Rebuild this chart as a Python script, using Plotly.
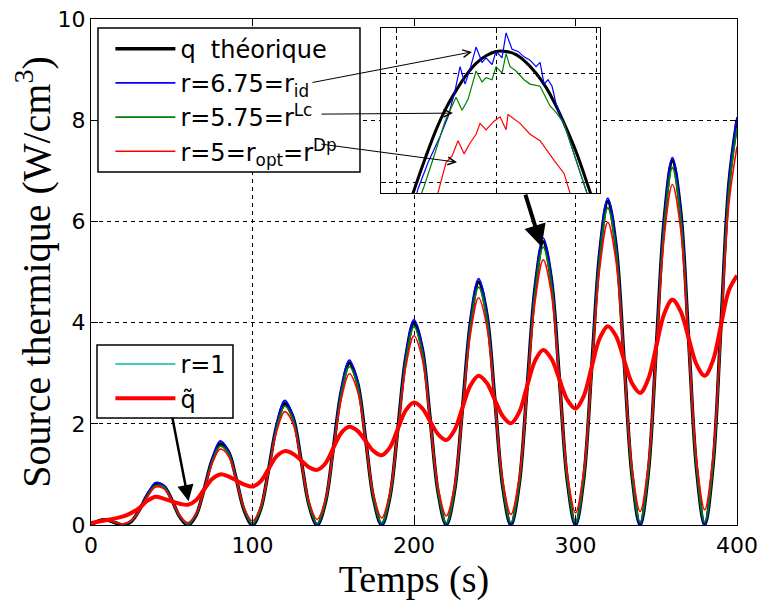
import plotly.graph_objects as go

# ---- data ----
t = list(range(0, 405, 5))

q_theo = [0, 0.085, 0.10, 0.044, 0, 0.073, 0.30, 0.598, 0.80,
          0.769, 0.50, 0.161, 0, 0.190, 0.70, 1.281, 1.60,
          1.452, 0.90, 0.277, 0, 0.307, 1.10, 1.964, 2.40,
          2.135, 1.30, 0.394, 0, 0.423, 1.50, 2.647, 3.20,
          2.818, 1.70, 0.511, 0, 0.540, 1.90, 3.331, 4.00,
          3.501, 2.10, 0.628, 0, 0.657, 2.30, 4.014, 4.80,
          4.185, 2.50, 0.745, 0, 0.774, 2.70, 4.697, 5.60,
          4.868, 2.90, 0.861, 0, 0.891, 3.10, 5.380, 6.40,
          5.551, 3.30, 0.978, 0, 1.007, 3.50, 6.063, 7.20,
          6.234, 3.70, 1.095, 0, 1.124, 3.90, 6.747, 8.00]

r_675 = [0, 0.09, 0.11, 0.05, 0.01, 0.08, 0.31, 0.61, 0.84,
         0.78, 0.51, 0.17, 0, 0.20, 0.71, 1.30, 1.66,
         1.47, 0.91, 0.29, 0, 0.32, 1.12, 1.99, 2.46,
         2.16, 1.31, 0.40, 0, 0.43, 1.52, 2.68, 3.26,
         2.84, 1.72, 0.52, 0, 0.55, 1.92, 3.36, 4.06,
         3.53, 2.12, 0.64, 0, 0.67, 2.32, 4.05, 4.87,
         4.21, 2.52, 0.76, 0, 0.79, 2.72, 4.73, 5.67,
         4.90, 2.92, 0.87, 0, 0.90, 3.12, 5.42, 6.46,
         5.58, 3.32, 0.99, 0, 1.02, 3.52, 6.10, 7.26,
         6.27, 3.72, 1.11, 0, 1.14, 3.92, 6.79, 8.06]

r_575 = [0, 0.08, 0.10, 0.05, 0.02, 0.08, 0.29, 0.58, 0.78,
         0.75, 0.49, 0.17, 0.02, 0.20, 0.69, 1.25, 1.56,
         1.42, 0.89, 0.29, 0.03, 0.31, 1.08, 1.92, 2.35,
         2.09, 1.28, 0.40, 0.03, 0.43, 1.47, 2.59, 3.13,
         2.76, 1.67, 0.52, 0.04, 0.55, 1.87, 3.26, 3.92,
         3.43, 2.07, 0.64, 0.04, 0.67, 2.26, 3.93, 4.70,
         4.10, 2.46, 0.76, 0.05, 0.79, 2.65, 4.60, 5.49,
         4.77, 2.85, 0.88, 0.05, 0.91, 3.05, 5.27, 6.27,
         5.44, 3.25, 1.00, 0.06, 1.03, 3.44, 5.94, 7.06,
         6.11, 3.64, 1.12, 0.06, 1.15, 3.84, 6.61, 7.85]

r_5 = [0, 0.08, 0.10, 0.05, 0.02, 0.09, 0.29, 0.56, 0.75,
       0.72, 0.49, 0.19, 0.05, 0.22, 0.68, 1.21, 1.50,
       1.37, 0.88, 0.32, 0.08, 0.36, 1.07, 1.85, 2.24,
       2.01, 1.27, 0.46, 0.11, 0.49, 1.46, 2.49, 2.99,
       2.65, 1.66, 0.60, 0.14, 0.63, 1.85, 3.14, 3.74,
       3.30, 2.05, 0.73, 0.18, 0.77, 2.24, 3.78, 4.49,
       3.94, 2.44, 0.87, 0.21, 0.90, 2.63, 4.42, 5.24,
       4.59, 2.83, 1.01, 0.24, 1.04, 3.02, 5.07, 5.98,
       5.23, 3.22, 1.14, 0.27, 1.18, 3.41, 5.71, 6.73,
       5.87, 3.61, 1.28, 0.30, 1.31, 3.80, 6.35, 7.48]

r_1 = [0, 0.08, 0.10, 0.04, 0, 0.07, 0.30, 0.60, 0.80,
       0.77, 0.50, 0.16, 0, 0.19, 0.70, 1.28, 1.60,
       1.45, 0.90, 0.28, 0, 0.31, 1.10, 1.96, 2.40,
       2.13, 1.30, 0.39, 0, 0.42, 1.50, 2.65, 3.20,
       2.82, 1.70, 0.51, 0, 0.54, 1.90, 3.33, 4.00,
       3.50, 2.10, 0.63, 0, 0.66, 2.30, 4.01, 4.80,
       4.18, 2.50, 0.74, 0, 0.77, 2.70, 4.70, 5.60,
       4.87, 2.90, 0.86, 0, 0.89, 3.10, 5.38, 6.40,
       5.55, 3.30, 0.98, 0, 1.01, 3.50, 6.06, 7.20,
       6.23, 3.70, 1.09, 0, 1.12, 3.90, 6.75, 8.00]

q_tilde = [0.04, 0.07, 0.10, 0.13, 0.17, 0.24, 0.34, 0.48, 0.56,
           0.52, 0.47, 0.42, 0.40, 0.49, 0.70, 0.91, 1.00,
           0.96, 0.88, 0.80, 0.76, 0.86, 1.11, 1.36, 1.46,
           1.41, 1.28, 1.14, 1.09, 1.21, 1.52, 1.82, 1.94,
           1.86, 1.66, 1.46, 1.38, 1.53, 1.90, 2.27, 2.42,
           2.31, 2.05, 1.79, 1.68, 1.87, 2.32, 2.76, 2.95,
           2.81, 2.48, 2.15, 2.01, 2.22, 2.74, 3.25, 3.46,
           3.29, 2.88, 2.47, 2.30, 2.54, 3.12, 3.69, 3.93,
           3.74, 3.27, 2.80, 2.61, 2.88, 3.53, 4.18, 4.45,
           4.23, 3.70, 3.17, 2.95, 3.24, 3.94, 4.64, 4.93]

# inset: zoom on the peak near t = 280 s
t_in = [274 + 0.5 * i for i in range(25)]
q_in = [4.35, 4.53, 4.70, 4.85, 4.99, 5.12, 5.24, 5.34, 5.42, 5.49, 5.545, 5.58, 5.60,
        5.60, 5.585, 5.55, 5.50, 5.435, 5.35, 5.25, 5.14, 5.01, 4.87, 4.705, 4.54]

blue_t = [275.9, 276.1, 276.6, 277.2, 277.6, 277.95, 278.2, 278.45, 278.7, 279.0,
          279.3, 279.5, 279.8, 280.0, 280.3, 280.5, 280.8, 281.1, 281.4, 281.7,
          282.0, 282.2, 282.4, 282.6, 282.8, 283.0, 283.5, 284.0, 284.5, 284.8]
blue_v = [4.90, 4.97, 5.09, 5.21, 5.30, 5.42, 5.53, 5.45, 5.52, 5.62,
          5.55, 5.57, 5.54, 5.60, 5.57, 5.685, 5.61, 5.60, 5.575, 5.56,
          5.53, 5.55, 5.45, 5.47, 5.44, 5.36, 5.24, 5.10, 4.95, 4.88]

green_t = [276.0, 276.4, 276.9, 277.45, 278.0, 278.3, 278.6, 279.0, 279.3, 279.5,
           279.8, 280.0, 280.3, 280.5, 280.7, 281.0, 281.4, 281.7, 282.2, 282.7,
           283.0, 283.4, 284.0, 284.5, 284.8]
green_v = [4.88, 4.98, 5.12, 5.28, 5.39, 5.33, 5.38, 5.51, 5.46, 5.48,
           5.47, 5.53, 5.50, 5.59, 5.53, 5.51, 5.47, 5.45, 5.44, 5.35,
           5.32, 5.27, 5.10, 4.95, 4.88]

red_t = [276.8, 277.1, 277.5, 277.8, 278.1, 278.4, 278.7, 279.0, 279.2, 279.5,
         279.9, 280.2, 280.5, 280.6, 280.9, 281.2, 281.7, 282.2, 282.9, 283.4,
         283.7, 284.0]
red_v = [4.85, 4.95, 5.09, 5.12, 5.19, 5.13, 5.18, 5.22, 5.27, 5.24,
         5.28, 5.30, 5.24, 5.31, 5.29, 5.27, 5.22, 5.19, 5.10, 5.04,
         4.95, 4.88]

BLUE = 'rgb(0, 0, 255)'
GREEN = 'rgb(0, 128, 0)'
RED = 'rgb(255, 0, 0)'
CYAN = 'rgb(64, 200, 200)'

fig = go.Figure()

fig.add_trace(go.Scatter(x=t, y=r_1, name='r=1', mode='lines', legend='legend2',
                         line=dict(color=CYAN, width=2, shape='spline')))
fig.add_trace(go.Scatter(x=t, y=q_theo, name='q  théorique', mode='lines',
                         line=dict(color='black', width=3.5, shape='spline')))
fig.add_trace(go.Scatter(x=t, y=r_675, name='r=6.75=r<sub>id</sub>', mode='lines',
                         line=dict(color=BLUE, width=1.8, shape='spline')))
fig.add_trace(go.Scatter(x=t, y=r_575, name='r=5.75=r<sup>Lc</sup>', mode='lines',
                         line=dict(color=GREEN, width=1.8, shape='spline')))
fig.add_trace(go.Scatter(x=t, y=r_5, name='r=5=r<sub>opt</sub>=r<sup>Dp</sup>', mode='lines',
                         line=dict(color=RED, width=1.6, shape='spline')))
fig.add_trace(go.Scatter(x=t, y=q_tilde, name='q\u0303', mode='lines', legend='legend2',
                         line=dict(color=RED, width=4, shape='spline')))

# inset traces
for xs, ys, col, w in [(t_in, q_in, 'black', 3), (blue_t, blue_v, BLUE, 1.2),
                       (green_t, green_v, GREEN, 1.2), (red_t, red_v, RED, 1.2)]:
    fig.add_trace(go.Scatter(x=xs, y=ys, mode='lines', showlegend=False,
                             xaxis='x2', yaxis='y2',
                             line=dict(color=col, width=w, shape='spline' if col == 'black' else 'linear')))

axis_common = dict(showline=True, linecolor='black', linewidth=1.3, mirror='ticks',
                   ticks='inside', tickcolor='black', zeroline=False, automargin=False,
                   ticklabeloverflow='allow',
                   showgrid=True, gridcolor='black', gridwidth=1, griddash='4px,4px')

legend_common = dict(xanchor='left', yanchor='top', bgcolor='rgba(0,0,0,0)', borderwidth=0,
                     font=dict(family='DejaVu Sans', size=24), tracegroupgap=0, itemwidth=60)

# page body adds an 8px offset, so the figure is drawn 8px smaller
fig.update_layout(
    width=757, height=598,
    margin=dict(l=83, r=28, t=11, b=81),
    paper_bgcolor='white', plot_bgcolor='white',
    font=dict(family='DejaVu Sans', color='black'),
    xaxis=dict(range=[0, 400], dtick=100, ticklen=7,
               tickfont=dict(family='DejaVu Sans', size=22),
               title=dict(text='Temps (s)', font=dict(family='Liberation Serif', size=38), standoff=2),
               **axis_common),
    yaxis=dict(range=[0, 10], dtick=2, ticklen=7,
               tickfont=dict(family='DejaVu Sans', size=22),
               title=dict(text='Source thermique (W/cm<sup>3</sup>)',
                          font=dict(family='Liberation Serif', size=40), standoff=4),
               **axis_common),
    xaxis2=dict(domain=[0.449, 0.788], anchor='y2', range=[274.25, 285.2], tick0=275, dtick=5,
                ticklen=5, showticklabels=False, **axis_common),
    yaxis2=dict(domain=[0.656, 0.982], anchor='x2', range=[4.95, 5.707], tick0=5, dtick=0.5,
                ticklen=5, showticklabels=False, **axis_common),
    legend=dict(x=0.03, y=0.985, **legend_common),
    legend2=dict(x=0.03, y=0.362, **legend_common),
)

# legend frames (wider than plotly's own legend box)
for x0, x1, y0, y1 in [(0.0108, 0.4164, 0.6976, 0.982), (0.0093, 0.2198, 0.2115, 0.3557)]:
    fig.add_shape(type='rect', xref='paper', yref='paper', x0=x0, x1=x1, y0=y0, y1=y1,
                  line=dict(color='black', width=1.5), fillcolor='white', layer='above')

# arrows: (tail x, tail y, head x, head y, width, head style, head size)
arrows = [
    (136.2, 8.74, 235.9, 9.35, 1, 5, 1.5),
    (141.8, 8.12, 224.1, 8.14, 1, 5, 1.5),
    (141.8, 7.53, 226.6, 7.17, 1, 5, 1.5),
    (268.7, 6.56, 279.0, 5.50, 4, 2, 1.1),
    (50.2, 2.15, 60.4, 0.47, 2.5, 2, 1.3),
]
for ax_, ay_, hx, hy, w, head, size in arrows:
    fig.add_annotation(x=hx, y=hy, ax=ax_, ay=ay_, xref='x', yref='y', axref='x', ayref='y',
                       text='', showarrow=True, arrowcolor='black', arrowwidth=w,
                       arrowhead=head, arrowsize=size)

fig.write_html("out.html")
